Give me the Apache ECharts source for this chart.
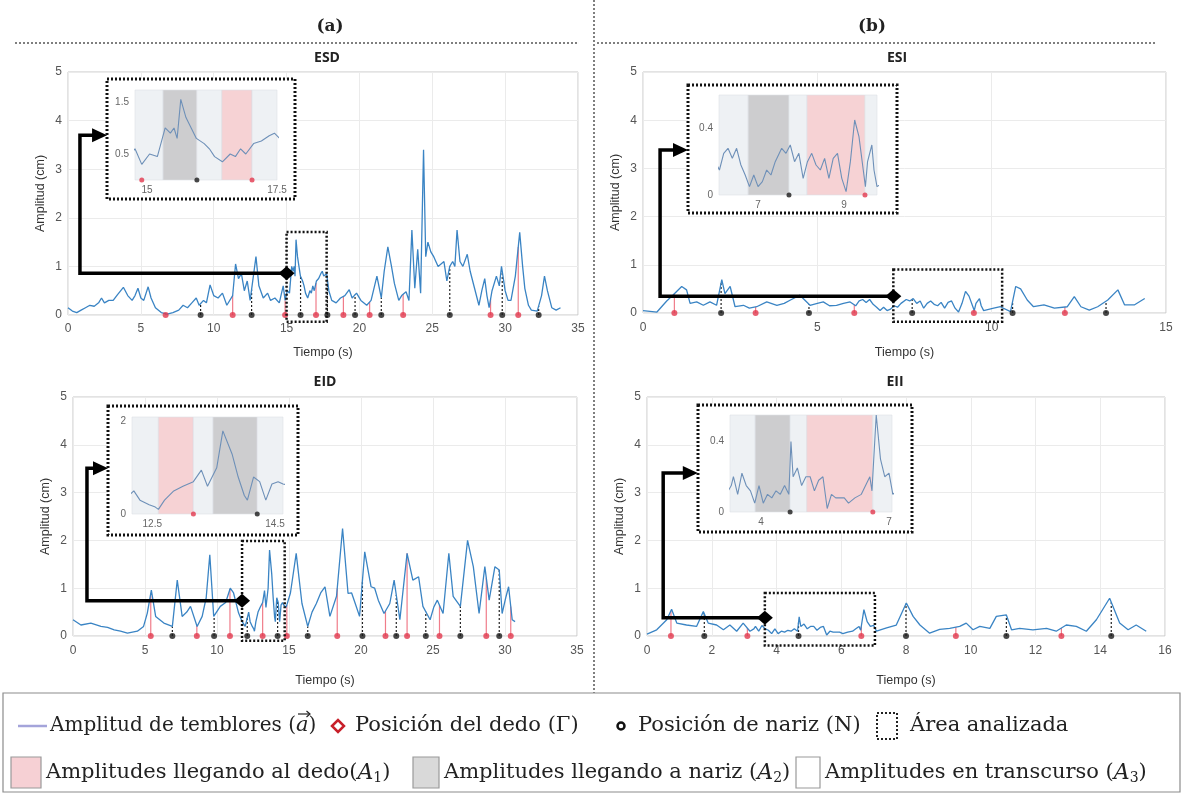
<!DOCTYPE html>
<html><head><meta charset="utf-8">
<script src="https://cdn.jsdelivr.net/npm/echarts@6/dist/echarts.min.js"></script>
<style>html,body{margin:0;padding:0;background:#fff}#c{width:1185px;height:795px}</style>
</head><body><div id="c"></div>
<script>
// ================= DATA =================
const panelTitles = ['ESD', 'ESI', 'EID', 'EII'];
const columnTitles = ['(a)', '(b)'];
const xAxisName = 'Tiempo (s)';
const yAxisName = 'Amplitud (cm)';

// tremor amplitude [time s, amplitude cm]
const esdSignal = [[0,0.15],[0.3,0.08],[0.6,0.05],[0.9,0.1],[1.2,0.15],[1.5,0.2],[1.8,0.18],[2.1,0.25],[2.3,0.35],[2.5,0.25],[2.8,0.3],[3.1,0.3],[3.4,0.42],[3.8,0.57],[4.1,0.4],[4.4,0.3],[4.6,0.4],[4.8,0.55],[5.0,0.35],[5.2,0.3],[5.5,0.58],[5.7,0.35],[6.0,0.15],[6.4,0.05],[6.8,0.02],[7.2,0.05],[7.6,0.1],[7.9,0.2],[8.2,0.15],[8.5,0.25],[8.8,0.35],[9.0,0.2],[9.3,0.3],[9.5,0.25],[9.75,0.62],[10.0,0.4],[10.3,0.35],[10.6,0.45],[10.9,0.2],[11.3,0.4],[11.5,1.05],[11.7,0.75],[11.9,0.85],[12.1,0.5],[12.3,0.7],[12.5,0.3],[12.9,1.2],[13.1,0.6],[13.4,0.35],[13.7,0.45],[13.9,0.3],[14.2,0.35],[14.5,0.25],[14.77,0.6],[14.9,0.3],[15.05,0.5],[15.2,0.45],[15.35,1.0],[15.45,0.9],[15.52,1.0],[15.58,0.8],[15.65,1.55],[15.75,1.2],[15.85,1.0],[15.95,0.8],[16.1,0.7],[16.2,0.6],[16.3,0.45],[16.45,0.35],[16.6,0.5],[16.7,0.45],[16.8,0.6],[16.9,0.5],[17.05,0.7],[17.2,0.75],[17.35,0.85],[17.45,0.9],[17.55,0.8],[17.75,0.85],[17.9,0.5],[18.1,0.3],[18.4,0.25],[18.7,0.35],[19.0,0.4],[19.3,0.52],[19.5,0.35],[19.8,0.45],[20.1,0.3],[20.5,0.2],[20.8,0.3],[21.2,0.8],[21.5,0.35],[21.7,0.9],[21.95,1.4],[22.2,1.0],[22.4,0.65],[22.7,0.3],[22.9,0.4],[23.2,0.48],[23.4,0.3],[23.6,1.75],[23.8,0.55],[24.0,1.35],[24.2,0.45],[24.4,3.4],[24.55,1.2],[24.7,1.5],[24.9,1.3],[25.1,1.2],[25.4,1.0],[25.6,1.05],[25.8,1.1],[26.0,0.7],[26.2,1.0],[26.4,1.1],[26.55,1.0],[26.7,1.75],[26.9,1.1],[27.1,1.0],[27.4,1.25],[27.6,0.9],[27.9,0.55],[28.2,0.2],[28.4,0.5],[28.6,0.75],[28.75,0.4],[28.9,0.15],[29.1,0.5],[29.4,0.8],[29.6,0.6],[29.75,1.0],[30.0,0.5],[30.2,0.3],[30.4,0.3],[30.7,0.8],[31.0,1.7],[31.2,1.0],[31.35,0.55],[31.6,0.2],[31.8,0.1],[32.2,0.08],[32.5,0.4],[32.7,0.8],[32.9,0.5],[33.2,0.15],[33.5,0.1],[33.8,0.15]];
const esiSignal = [[0,0.05],[0.4,0.02],[0.68,0.25],[0.87,0.38],[1.11,0.55],[1.25,0.48],[1.35,0.2],[1.54,0.23],[1.73,0.16],[1.92,0.23],[2.11,0.16],[2.26,0.69],[2.35,0.4],[2.5,0.55],[2.64,0.13],[2.88,0.16],[3.05,0.1],[3.26,0.13],[3.55,0.23],[3.84,0.16],[4.05,0.2],[4.23,0.27],[4.5,0.37],[4.79,0.16],[5.0,0.2],[5.17,0.23],[5.35,0.15],[5.55,0.16],[5.75,0.2],[5.94,0.23],[6.1,0.15],[6.2,0.25],[6.3,0.28],[6.4,0.22],[6.5,0.28],[6.6,0.18],[6.7,0.12],[6.8,0.05],[6.9,0.12],[7.0,0.05],[7.1,0.08],[7.2,0.15],[7.3,0.12],[7.4,0.2],[7.55,0.28],[7.65,0.25],[7.75,0.3],[7.85,0.2],[7.95,0.25],[8.05,0.1],[8.15,0.2],[8.25,0.25],[8.35,0.18],[8.45,0.15],[8.55,0.22],[8.65,0.1],[8.75,0.22],[8.85,0.25],[8.95,0.1],[9.05,0.02],[9.15,0.2],[9.25,0.45],[9.35,0.35],[9.45,0.15],[9.5,0.05],[9.55,0.2],[9.65,0.3],[9.7,0.15],[9.77,0.05],[10.06,0.1],[10.25,0.13],[10.54,0.03],[10.69,0.55],[10.83,0.5],[11.02,0.27],[11.2,0.13],[11.5,0.17],[11.8,0.1],[12.17,0.13],[12.37,0.34],[12.56,0.13],[12.8,0.06],[13.04,0.13],[13.33,0.27],[13.62,0.48],[13.81,0.17],[14.1,0.17],[14.39,0.3]];
const eidSignal = [[0,0.34],[0.55,0.23],[1.24,0.27],[1.94,0.2],[2.4,0.18],[2.86,0.13],[3.3,0.1],[3.78,0.06],[4.47,0.1],[4.9,0.2],[5.16,0.48],[5.44,0.96],[5.74,0.41],[6.31,0.27],[6.9,0.2],[7.24,1.17],[7.58,0.41],[7.9,0.5],[8.16,0.62],[8.62,0.2],[8.97,0.41],[9.25,0.8],[9.5,1.7],[9.77,0.41],[10.23,0.62],[10.6,0.7],[10.92,1.0],[11.15,0.9],[11.5,0.48],[11.75,0.3],[11.96,0.2],[12.2,0.5],[12.3,0.3],[12.45,0.2],[12.55,0.15],[12.6,0.1],[12.7,0.3],[12.85,0.5],[13.0,0.6],[13.17,0.7],[13.3,0.95],[13.4,0.6],[13.55,1.0],[13.65,1.8],[13.8,1.3],[13.9,0.8],[14.0,0.4],[14.05,0.3],[14.15,0.8],[14.25,0.7],[14.35,0.3],[14.45,0.65],[14.55,0.7],[14.63,0.65],[14.8,0.6],[15.1,0.9],[15.5,1.73],[15.9,0.68],[16.3,0.2],[16.6,0.5],[16.9,0.68],[17.2,0.9],[17.5,1.03],[17.84,0.41],[18.3,0.83],[18.72,2.25],[19.1,0.89],[19.35,0.9],[19.6,0.68],[19.9,0.41],[20.26,1.76],[20.7,1.03],[20.95,1.0],[21.2,0.75],[21.6,0.47],[22.0,0.68],[22.3,1.17],[22.7,0.34],[23.2,1.73],[23.6,1.17],[24.0,1.24],[24.3,0.62],[24.8,0.34],[25.05,0.6],[25.3,0.75],[25.7,0.47],[26.1,1.73],[26.4,0.83],[26.9,0.62],[27.4,2.0],[27.8,1.45],[28.2,0.47],[28.6,1.45],[28.9,0.75],[29.3,1.45],[29.6,1.38],[29.8,0.47],[30.05,0.8],[30.25,1.03],[30.5,0.34],[30.7,0.3]];
const eiiSignal = [[0,0.04],[0.3,0.13],[0.61,0.34],[0.76,0.56],[0.92,0.27],[1.22,0.23],[1.53,0.2],[1.74,0.51],[1.89,0.27],[2.15,0.23],[2.36,0.13],[2.56,0.23],[2.77,0.1],[2.97,0.27],[3.18,0.1],[3.3,0.15],[3.35,0.2],[3.45,0.1],[3.55,0.22],[3.65,0.15],[3.75,0.12],[3.85,0.05],[3.95,0.15],[4.05,0.05],[4.15,0.1],[4.25,0.08],[4.35,0.12],[4.45,0.1],[4.55,0.15],[4.65,0.1],[4.7,0.4],[4.75,0.2],[4.85,0.25],[4.95,0.15],[5.05,0.2],[5.15,0.2],[5.25,0.12],[5.35,0.18],[5.45,0.2],[5.55,0.02],[5.65,0.1],[5.75,0.08],[5.95,0.08],[6.05,0.05],[6.2,0.08],[6.35,0.1],[6.45,0.15],[6.55,0.2],[6.6,0.12],[6.7,0.55],[6.8,0.3],[6.9,0.2],[7.0,0.22],[7.09,0.1],[7.4,0.17],[7.7,0.23],[8.01,0.69],[8.22,0.41],[8.43,0.23],[8.73,0.06],[9.04,0.14],[9.35,0.16],[9.66,0.2],[9.86,0.27],[10.07,0.13],[10.28,0.2],[10.59,0.16],[10.79,0.41],[11.1,0.44],[11.26,0.13],[11.51,0.16],[11.92,0.13],[12.34,0.16],[12.64,0.1],[12.95,0.23],[13.26,0.2],[13.57,0.1],[13.88,0.34],[14.29,0.79],[14.6,0.27],[14.86,0.13],[15.11,0.23],[15.42,0.1]];

// finger (Γ) and nose (N) positions, time in s
const esdFinger = [6.7, 11.3, 14.9, 17.02, 18.9, 20.7, 23.0, 29.0, 30.9];
const esdNose   = [9.1, 12.6, 15.96, 17.8, 19.7, 21.5, 26.2, 29.8, 32.3];
const esiFinger = [0.9, 3.23, 6.06, 9.49, 12.1];
const esiNose   = [2.24, 4.76, 7.72, 10.6, 13.28];
const eidFinger = [5.4, 8.6, 10.9, 13.17, 14.85, 18.35, 21.7, 23.2, 25.45, 28.7, 30.4];
const eidNose   = [6.9, 9.8, 12.1, 14.21, 16.3, 20.1, 22.45, 24.5, 26.9, 29.6];
const eiiFinger = [0.74, 3.1, 6.62, 9.54, 12.8];
const eiiNose   = [1.77, 4.68, 8.0, 11.1, 14.34];

// main axes ranges [xMax, xInterval]
const esdXAxis = [35, 5];
const esiXAxis = [15, 5];
const eidXAxis = [35, 5];
const eiiXAxis = [16, 2];
const yAxisMax = 5;

// analysed area [x0, x1, y0, y1] and connector path [ [t,amp], ... ]
const esdArea = [15.0, 17.75, -0.14, 1.71];
const esiArea = [7.18, 10.3, -0.18, 0.9];
const eidArea = [11.74, 14.7, -0.1, 1.99];
const eiiArea = [3.64, 7.04, -0.2, 0.9];
const esdArrow = [[15.0, 0.86], [0.82, 0.86], [0.82, 3.7], [2.68, 3.7]];
const esiArrow = [[7.18, 0.35], [0.49, 0.35], [0.49, 3.38], [1.29, 3.38]];
const eidArrow = [[11.74, 0.74], [0.97, 0.74], [0.97, 3.51], [2.43, 3.51]];
const eiiArrow = [[3.64, 0.38], [0.5, 0.38], [0.5, 3.41], [1.57, 3.41]];

// zoom insets: x range, y max, tick labels, bands [x0, x1, kind] kind 1=A1 finger, 2=A2 nose, 3=A3 transit
const esdZoomX = [14.77, 17.5]; const esdZoomYMax = 1.73;
const esdZoomXLabels = [15, 17.5]; const esdZoomYLabels = [0.5, 1.5];
const esdBands = [[14.77,15.31,3],[15.31,15.96,2],[15.96,16.44,3],[16.44,17.02,1],[17.02,17.5,3]];
const esiZoomX = [6.09, 9.77]; const esiZoomYMax = 0.6;
const esiZoomXLabels = [7, 9]; const esiZoomYLabels = [0, 0.4];
const esiBands = [[6.09,6.77,3],[6.77,7.72,2],[7.72,8.14,3],[8.14,9.49,1],[9.49,9.77,3]];
const eidZoomX = [12.17, 14.63]; const eidZoomYMax = 2.1;
const eidZoomXLabels = [12.5, 14.5]; const eidZoomYLabels = [0, 2];
const eidBands = [[12.17,12.6,3],[12.6,13.17,1],[13.17,13.49,3],[13.49,14.21,2],[14.21,14.63,3]];
const eiiZoomX = [3.27, 7.07]; const eiiZoomYMax = 0.55;
const eiiZoomXLabels = [4, 7]; const eiiZoomYLabels = [0, 0.4];
const eiiBands = [[3.27,3.86,3],[3.86,4.68,2],[4.68,5.07,3],[5.07,6.62,1],[6.62,7.07,3]];

// legend texts
const legendLinePrefix = 'Amplitud de temblores (';
const legendLineVar = 'a';
const legendRow1 = ['Posición del dedo (Γ)', 'Posición de nariz (N)', 'Área analizada'];
const legendRow2 = ['Amplitudes llegando al dedo({i|A}{s|1})', 'Amplitudes llegando a nariz ({i|A}{s|2})', 'Amplitudes en transcurso ({i|A}{s|3})'];

// ================= LAYOUT / STYLE =================
const C_LINE = '#3a84c4', C_ZLINE = '#6e90b8', C_RED = '#e2384d', C_BLK = '#1a1a1a';
const BAND_COL = {1: '#f6d2d4', 2: '#cdcdcf', 3: '#eef1f4'};
const SANS = 'Liberation Sans', SERIF = 'DejaVu Serif';

const panels = [
  {sig: esdSignal, fin: esdFinger, nose: esdNose, xa: esdXAxis, area: esdArea, arrow: esdArrow,
   grid: {left: 68, top: 72, width: 510, height: 243}, lblMargin: 8, nameGap: 31,
   zoom: {x: esdZoomX, yMax: esdZoomYMax, xl: esdZoomXLabels, yl: esdZoomYLabels, bands: esdBands,
          grid: {left: 135, top: 90, width: 142, height: 90}, frame: [107, 79, 188, 120]}},
  {sig: esiSignal, fin: esiFinger, nose: esiNose, xa: esiXAxis, area: esiArea, arrow: esiArrow,
   grid: {left: 643, top: 72, width: 523, height: 241}, lblMargin: 9, nameGap: 33,
   zoom: {x: esiZoomX, yMax: esiZoomYMax, xl: esiZoomXLabels, yl: esiZoomYLabels, bands: esiBands,
          grid: {left: 719, top: 95, width: 158, height: 100}, frame: [688, 85, 209, 128]}},
  {sig: eidSignal, fin: eidFinger, nose: eidNose, xa: eidXAxis, area: eidArea, arrow: eidArrow,
   grid: {left: 73, top: 397, width: 504, height: 239}, lblMargin: 9, nameGap: 38,
   zoom: {x: eidZoomX, yMax: eidZoomYMax, xl: eidZoomXLabels, yl: eidZoomYLabels, bands: eidBands,
          grid: {left: 132, top: 417, width: 151, height: 97}, frame: [108, 406, 190, 129]}},
  {sig: eiiSignal, fin: eiiFinger, nose: eiiNose, xa: eiiXAxis, area: eiiArea, arrow: eiiArrow,
   grid: {left: 647, top: 397, width: 518, height: 239}, lblMargin: 9, nameGap: 38,
   zoom: {x: eiiZoomX, yMax: eiiZoomYMax, xl: eiiZoomXLabels, yl: eiiZoomYLabels, bands: eiiBands,
          grid: {left: 730, top: 415, width: 162, height: 97}, frame: [698, 405, 214, 127]}}
];

function interp(sig, t) {
  for (let k = 1; k < sig.length; k++) {
    if (sig[k][0] >= t) {
      const a = sig[k - 1], b = sig[k];
      return a[1] + (b[1] - a[1]) * (t - a[0]) / (b[0] - a[0]);
    }
  }
  return sig[sig.length - 1][1];
}

const grids = [], xAxes = [], yAxes = [], series = [], graphics = [];

panels.forEach((p, i) => {
  grids.push(Object.assign({show: true, borderColor: '#c6c6c6', borderWidth: 1, backgroundColor: '#fff'}, p.grid));
  xAxes.push({gridIndex: i, type: 'value', min: 0, max: p.xa[0], interval: p.xa[1],
    axisLine: {show: false}, axisTick: {show: false},
    axisLabel: {color: '#555', fontSize: 12, fontFamily: SANS, margin: p.lblMargin},
    splitLine: {show: true, lineStyle: {color: '#ebebeb'}},
    name: xAxisName, nameLocation: 'middle', nameGap: p.nameGap,
    nameTextStyle: {color: '#333', fontSize: 12.5, fontFamily: SANS}});
  yAxes.push({gridIndex: i, type: 'value', min: 0, max: yAxisMax, interval: 1,
    axisLine: {show: false}, axisTick: {show: false},
    axisLabel: {color: '#555', fontSize: 12, fontFamily: SANS, margin: 6},
    splitLine: {show: true, lineStyle: {color: '#ebebeb'}},
    name: yAxisName, nameLocation: 'middle', nameGap: 21, nameRotate: 90,
    nameTextStyle: {color: '#333', fontSize: 12.5, fontFamily: SANS}});

  series.push({type: 'line', xAxisIndex: i, yAxisIndex: i, data: p.sig, showSymbol: false, z: 3,
    lineStyle: {color: C_LINE, width: 1.3}, silent: true, animation: false});
  [[p.fin, '#f07c8a', null], [p.nose, '#222', [2, 2]]].forEach(([arr, col, dash]) => {
    series.push({type: 'custom', xAxisIndex: i, yAxisIndex: i, z: 3, silent: true, animation: false,
      data: arr.map(t => [t, 0]),
      renderItem: (params, api) => {
        const t = api.value(0);
        const a = api.coord([t, 0]), b = api.coord([t, interp(p.sig, t)]);
        return {type: 'line', shape: {x1: a[0], y1: a[1], x2: b[0], y2: b[1]},
          style: {stroke: col, lineWidth: 1.2, lineDash: dash}};
      }});
  });
  series.push({type: 'scatter', xAxisIndex: i, yAxisIndex: i, z: 4, silent: true, animation: false,
    data: p.fin.map(t => [t, 0]), symbol: 'circle', symbolSize: 6, itemStyle: {color: C_RED}});
  series.push({type: 'scatter', xAxisIndex: i, yAxisIndex: i, z: 4, silent: true, animation: false,
    data: p.nose.map(t => [t, 0]), symbol: 'circle', symbolSize: 6, itemStyle: {color: C_BLK}});
  series.push({type: 'custom', xAxisIndex: i, yAxisIndex: i, z: 5, silent: true, animation: false, clip: false,
    data: [[p.area[0], p.area[2]]],
    renderItem: (params, api) => {
      const a = api.coord([p.area[0], p.area[3]]), b = api.coord([p.area[1], p.area[2]]);
      return {type: 'rect', shape: {x: a[0], y: a[1], width: b[0] - a[0], height: b[1] - a[1]},
        style: {fill: 'none', stroke: '#111', lineWidth: 2.5, lineDash: [2, 2]}};
    }});
  series.push({type: 'custom', xAxisIndex: i, yAxisIndex: i, z: 6, silent: true, animation: false, clip: false,
    data: [p.arrow[0]],
    renderItem: (params, api) => {
      const P = p.arrow.map(q => api.coord(q));
      const e = P[P.length - 1], s = P[0];
      const shaft = P.slice(0, -1).concat([[e[0] - 12, e[1]]]);
      return {type: 'group', children: [
        {type: 'polyline', shape: {points: shaft}, style: {stroke: '#000', lineWidth: 3.5, fill: null}},
        {type: 'polygon', shape: {points: [[e[0], e[1]], [e[0] - 15, e[1] - 7], [e[0] - 15, e[1] + 7]]}, style: {fill: '#000'}},
        {type: 'polygon', shape: {points: [[s[0] - 8, s[1]], [s[0], s[1] - 7], [s[0] + 8, s[1]], [s[0], s[1] + 7]]}, style: {fill: '#000'}}
      ]};
    }});
});

panels.forEach((p, i) => {
  const z = p.zoom, gi = 4 + i;
  grids.push(Object.assign({show: false}, z.grid));
  xAxes.push({gridIndex: gi, type: 'value', min: z.x[0], max: z.x[1], z: 5,
    axisLine: {show: false}, axisTick: {show: false}, splitLine: {show: false},
    axisLabel: {customValues: z.xl, color: '#666', fontSize: 10, fontFamily: SANS, margin: 5}});
  yAxes.push({gridIndex: gi, type: 'value', min: 0, max: z.yMax, z: 5,
    axisLine: {show: false}, axisTick: {show: false}, splitLine: {show: false},
    axisLabel: {customValues: z.yl, color: '#666', fontSize: 10, fontFamily: SANS, margin: 6}});
  series.push({type: 'custom', xAxisIndex: gi, yAxisIndex: gi, z: 5, silent: true, animation: false,
    data: z.bands.map(b => [b[0], b[1], b[2]]),
    renderItem: (params, api) => {
      const a = api.coord([api.value(0), z.yMax]), b = api.coord([api.value(1), 0]);
      return {type: 'rect', shape: {x: a[0], y: a[1], width: b[0] - a[0], height: b[1] - a[1]},
        style: {fill: BAND_COL[api.value(2)], stroke: '#dde1e6', lineWidth: 0.6}};
    }});
  series.push({type: 'line', xAxisIndex: gi, yAxisIndex: gi, z: 6, data: p.sig, showSymbol: false,
    clip: true, silent: true, animation: false, lineStyle: {color: C_ZLINE, width: 1.1}});
  const inR = t => t >= z.x[0] && t <= z.x[1];
  series.push({type: 'scatter', xAxisIndex: gi, yAxisIndex: gi, z: 7, silent: true, animation: false,
    data: p.fin.filter(inR).map(t => [t, 0]), symbolSize: 5, itemStyle: {color: C_RED}});
  series.push({type: 'scatter', xAxisIndex: gi, yAxisIndex: gi, z: 7, silent: true, animation: false,
    data: p.nose.filter(inR).map(t => [t, 0]), symbolSize: 5, itemStyle: {color: C_BLK}});
  graphics.push({type: 'rect', z: 3, silent: true,
    shape: {x: z.frame[0], y: z.frame[1], width: z.frame[2], height: z.frame[3]},
    style: {fill: '#fff', stroke: '#111', lineWidth: 3, lineDash: [2, 2]}});
});

// separators and titles
const dotted = {stroke: '#555', lineWidth: 1.5, lineDash: [2, 2]};
graphics.push({type: 'line', silent: true, shape: {x1: 15, y1: 43, x2: 578, y2: 43}, style: dotted});
graphics.push({type: 'line', silent: true, shape: {x1: 597, y1: 43, x2: 1155, y2: 43}, style: dotted});
graphics.push({type: 'line', silent: true, shape: {x1: 594, y1: 0, x2: 594, y2: 693}, style: dotted});
[[330, 27], [872, 27]].forEach((pos, k) => graphics.push({type: 'text', x: pos[0], y: pos[1], silent: true,
  style: {text: columnTitles[k], font: 'bold 17px ' + SERIF, fill: '#222', align: 'center', verticalAlign: 'middle'}}));
[[327, 58], [897, 58], [325, 382], [895, 382]].forEach((pos, k) => graphics.push({type: 'text', x: pos[0], y: pos[1], silent: true,
  style: {text: panelTitles[k], font: 'bold 14px "Open Sans"', fill: '#222', align: 'center', verticalAlign: 'middle'}}));

// legend
const LF = 21;
const rich = {
  i: {fontFamily: SERIF, fontSize: LF + 1, fontStyle: 'italic', fill: '#222'},
  s: {fontFamily: SERIF, fontSize: 14, fill: '#222', verticalAlign: 'bottom', padding: [10, 0, 0, 0]}
};
function legText(x, y, txt, fs) {
  const f = fs || LF;
  const r = fs ? {i: Object.assign({}, rich.i, {fontSize: f + 1}), s: rich.s} : rich;
  return {type: 'text', x: x, y: y, silent: true, z: 10,
    style: {text: txt, rich: r, fontFamily: SERIF, fontSize: f, fill: '#222', verticalAlign: 'middle'}};
}
const mctx = document.createElement('canvas').getContext('2d');
function tw(txt, font) { mctx.font = font; return mctx.measureText(txt).width; }

graphics.push({type: 'rect', silent: true, shape: {x: 3, y: 693, width: 1177, height: 99}, style: {fill: '#fff', stroke: '#8c8c8c', lineWidth: 1.2}});
const r1 = 726, r2 = 773;
const F1 = 20;
graphics.push({type: 'line', silent: true, shape: {x1: 18, y1: r1, x2: 47, y2: r1}, style: {stroke: '#a4a4da', lineWidth: 2.5}});
graphics.push(legText(50, r1, legendLinePrefix + '{i|' + legendLineVar + '})', F1));
// vector arrow over the italic "a"
const ax = 50 + tw(legendLinePrefix, F1 + 'px "' + SERIF + '"');
const aw = tw(legendLineVar, 'italic ' + (F1 + 1) + 'px "' + SERIF + '"');
const ay = r1 - 12;
graphics.push({type: 'line', silent: true, z: 11, shape: {x1: ax + 2, y1: ay, x2: ax + aw + 1, y2: ay}, style: {stroke: '#222', lineWidth: 1.2}});
graphics.push({type: 'polyline', silent: true, z: 11, shape: {points: [[ax + aw - 2, ay - 3], [ax + aw + 1.5, ay], [ax + aw - 2, ay + 3]]}, style: {stroke: '#222', lineWidth: 1.2, fill: null}});

graphics.push({type: 'polygon', silent: true, shape: {points: [[332, r1], [338, r1 - 6], [344, r1], [338, r1 + 6]]}, style: {fill: '#fff', stroke: '#c8202a', lineWidth: 2.5}});
graphics.push(legText(355, r1, legendRow1[0]));
graphics.push({type: 'circle', silent: true, shape: {cx: 621, cy: r1, r: 3.5}, style: {fill: '#fff', stroke: '#111', lineWidth: 2.5}});
graphics.push(legText(638, r1, legendRow1[1]));
graphics.push({type: 'rect', silent: true, shape: {x: 877, y: r1 - 13, width: 20, height: 26}, style: {fill: 'none', stroke: '#222', lineWidth: 2, lineDash: [2, 2]}});
graphics.push(legText(910, r1, legendRow1[2]));
graphics.push({type: 'rect', silent: true, shape: {x: 11, y: r2 - 16, width: 30, height: 31}, style: {fill: '#f6d0d4', stroke: '#9a9a9a', lineWidth: 1.2}});
graphics.push(legText(46, r2, legendRow2[0]));
graphics.push({type: 'rect', silent: true, shape: {x: 413, y: r2 - 16, width: 26, height: 31}, style: {fill: '#d9d9d9', stroke: '#9a9a9a', lineWidth: 1.2}});
graphics.push(legText(444, r2, legendRow2[1]));
graphics.push({type: 'rect', silent: true, shape: {x: 796, y: r2 - 16, width: 24, height: 31}, style: {fill: '#fff', stroke: '#9a9a9a', lineWidth: 1.2}});
graphics.push(legText(825, r2, legendRow2[2]));

const chart = echarts.init(document.getElementById('c'), null, {renderer: 'canvas'});
chart.setOption({
  animation: false,
  backgroundColor: '#fff',
  grid: grids, xAxis: xAxes, yAxis: yAxes, series: series,
  graphic: {elements: graphics}
});
</script>
</body></html>
